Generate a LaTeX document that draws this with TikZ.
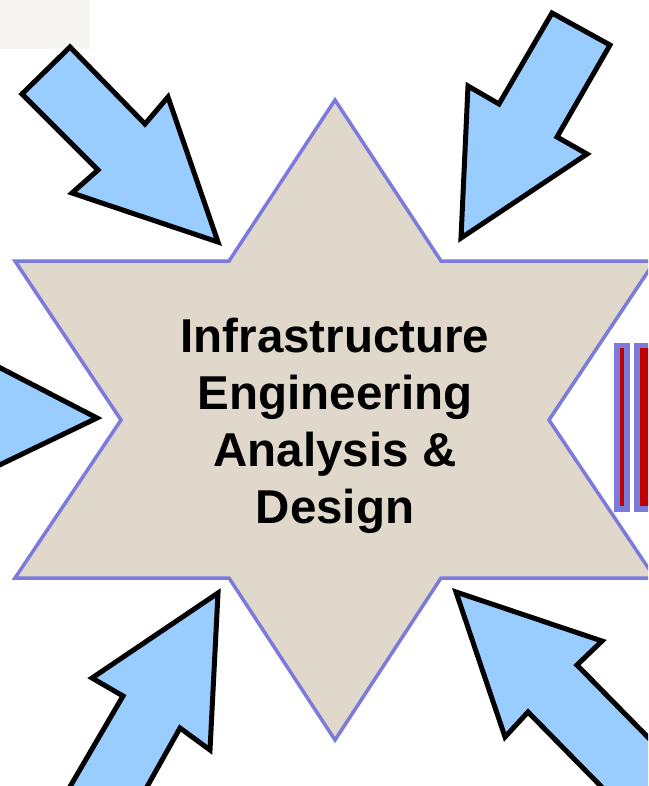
\documentclass[tikz,border=0pt]{standalone}
\usepackage{fontspec}
\setmainfont{Liberation Sans}
\definecolor{starfill}{RGB}{224,216,203}
\definecolor{starline}{RGB}{123,123,219}
\definecolor{arrowfill}{RGB}{153,204,255}
\definecolor{barred}{RGB}{192,0,0}
\definecolor{cornergray}{RGB}{247,245,242}
\tikzset{
  blockarrow/.style={fill=arrowfill, draw=black, line width=5pt, line join=miter},
  starshape/.style={fill=starfill, draw=starline, line width=3.5pt, line join=miter},
  label/.style={font=\fontsize{47.5}{57}\selectfont\bfseries, text=black, inner sep=0pt, anchor=base},
  barouter/.style={fill=starline, draw=none},
  barinner/.style={fill=barred, draw=none}
}
\begin{document}
\begin{tikzpicture}[x=1pt,y=-1pt]
\useasboundingbox (0,0) rectangle (648,786);
\clip (0,0) rectangle (648,786);
% light corner patch
\fill[cornergray] (0,0) rectangle (90,49);
% star
\draw[starshape] (335,100) -- (229,261) -- (15,261) -- (121,420) -- (15,578)
  -- (229,578) -- (335,740) -- (441,578) -- (655,578) -- (549,420)
  -- (655,261) -- (441,261) -- cycle;
% right bars
\fill[barouter] (614,343) rectangle (630,512);
\fill[barinner] (620,348) rectangle (624,506);
\fill[barouter] (634,343) rectangle (660,512);
\fill[barinner] (640,348) rectangle (660,506);
% arrows
\draw[blockarrow] (70,47) -- (145,124) -- (168,97) -- (218,242) -- (72,193)
  -- (98,170) -- (22,94) -- cycle;
\draw[blockarrow] (552,13) -- (610,45) -- (557,137) -- (587,154) -- (461,238)
  -- (468,86) -- (499,104) -- cycle;
\draw[blockarrow] (-40,347) -- (97,418) -- (-40,484) -- cycle;
\draw[blockarrow] (218,593) -- (210,750) -- (180,728) -- (125,826)
  -- (47,826) -- (123,696) -- (92,678) -- cycle;
\draw[blockarrow] (456,592) -- (602,641) -- (577,665) -- (688,778)
  -- (640,826) -- (528,712) -- (505,737) -- cycle;
% text
\node[label] (l1) at (335,352) {Infrastructure};
\node[label] (l2) at (335,409) {Engineering};
\node[label] (l3) at (335,466) {Analysis \&};
\node[label] (l4) at (335,523) {Design};
\end{tikzpicture}
\end{document}
